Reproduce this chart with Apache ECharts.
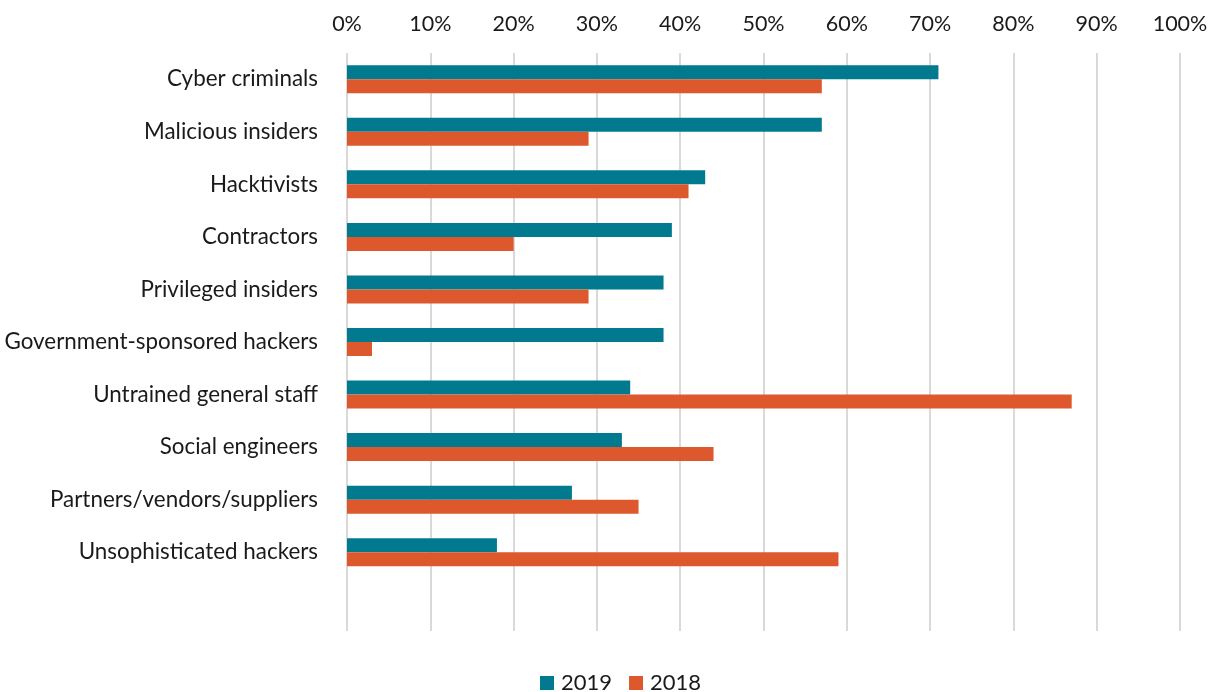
<!DOCTYPE html>
<html>
<head>
<meta charset="utf-8">
<script src="https://cdn.jsdelivr.net/npm/echarts@6/dist/echarts.min.js"></script>
<style>
  html, body { margin: 0; padding: 0; background: #ffffff; }
  #chart { width: 1214px; height: 692px; }
</style>
</head>
<body>
<div id="chart"></div>
<script>
// Threat actors, top to bottom; the trailing blank slot leaves room below the last bar
const categories = [
  'Cyber criminals',
  'Malicious insiders',
  'Hacktivists',
  'Contractors',
  'Privileged insiders',
  'Government-sponsored hackers',
  'Untrained general staff',
  'Social engineers',
  'Partners/vendors/suppliers',
  'Unsophisticated hackers',
  ''
];

// Share of respondents (%)
const values2019 = [71, 57, 43, 39, 38, 38, 34, 33, 27, 18];
const values2018 = [57, 29, 41, 20, 29, 3, 87, 44, 35, 59];

const seriesNames = ['2019', '2018'];

const FONT = 'Lato, "Open Sans", sans-serif';
const TEXT = '#1a1a1a';

const chart = echarts.init(document.getElementById('chart'), null, { renderer: 'canvas' });

chart.setOption({
  animation: false,
  backgroundColor: '#ffffff',
  textStyle: { fontFamily: FONT },
  grid: { left: 347, right: 34, top: 53, bottom: 61, containLabel: false },
  legend: {
    data: seriesNames,
    top: 672,
    left: 540,
    padding: 0,
    itemWidth: 14,
    itemHeight: 14,
    itemGap: 17,
    icon: 'rect',
    textStyle: { fontSize: 22, color: TEXT, fontFamily: FONT, padding: [0, 0, 0, 2] }
  },
  xAxis: {
    type: 'value',
    position: 'top',
    min: 0,
    max: 100,
    interval: 10,
    axisLine: { show: false },
    axisTick: { show: false },
    axisLabel: {
      formatter: '{value}%',
      fontSize: 21.5,
      color: TEXT,
      margin: 18,
      fontFamily: FONT
    },
    splitLine: { show: true, lineStyle: { color: '#d9d9d9', width: 2 } }
  },
  yAxis: {
    type: 'category',
    data: categories,
    inverse: true,
    axisLine: { show: false },
    axisTick: { show: false },
    axisLabel: {
      fontSize: 22.4,
      color: TEXT,
      margin: 29,
      fontFamily: FONT
    },
    splitLine: { show: false }
  },
  series: [
    {
      name: seriesNames[0],
      type: 'bar',
      data: values2019,
      barWidth: 14,
      barGap: '0%',
      itemStyle: { color: '#017a8f' }
    },
    {
      name: seriesNames[1],
      type: 'bar',
      data: values2018,
      barWidth: 14,
      barGap: '0%',
      itemStyle: { color: '#dd582c' }
    }
  ]
});
</script>
</body>
</html>
